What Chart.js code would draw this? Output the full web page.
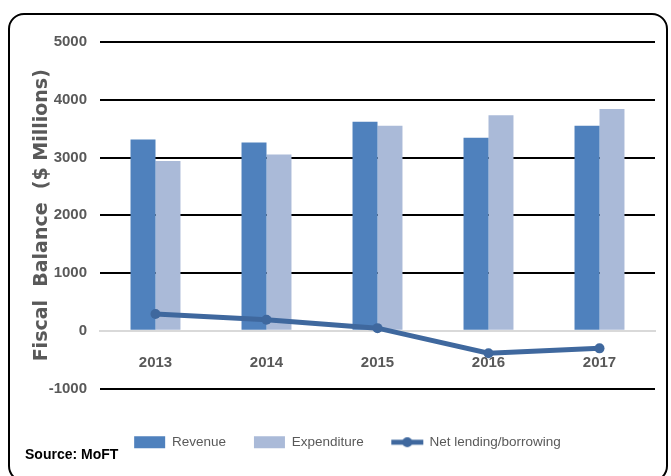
<!DOCTYPE html>
<html>
<head>
<meta charset="utf-8">
<script src="https://cdn.jsdelivr.net/npm/chart.js@4.4.1/dist/chart.umd.min.js"></script>
<style>
  html, body { margin: 0; padding: 0; background: #fff; overflow: hidden; }
  #frame {
    position: absolute; left: 8px; top: 13px;
    width: 656px; height: 465px;
    border: 2px solid #000; border-radius: 16px;
  }
  #chart { position: absolute; left: 0; top: 0; }
  #source {
    position: absolute; left: 15px; top: 431px;
    font: bold 14px 'Liberation Sans Narrow', 'Liberation Sans', sans-serif;
    color: #000;
  }
</style>
</head>
<body>
<div id="frame">
  <canvas id="chart" width="656" height="465"></canvas>
  <div id="source">Source: MoFT</div>
</div>
<script>
// data
const years = ['2013', '2014', '2015', '2016', '2017'];
const revenue = [3310, 3260, 3620, 3340, 3550];
const expenditure = [2940, 3050, 3550, 3730, 3840];
const netLending = [290, 190, 45, -390, -305];
const yTicks = { min: -1000, max: 5000, step: 1000 };

const revColor = '#4F81BD';
const expColor = '#AABAD8';
const lineColor = '#3F689E';
const narrow = "'Liberation Sans Narrow', 'Liberation Sans', sans-serif";
const grey = '#595959';

// little picture for the line's legend entry
function lineIcon() {
    const c = document.createElement('canvas');
    c.width = 36; c.height = 12;
    const g = c.getContext('2d');
    g.strokeStyle = lineColor;
    g.fillStyle = lineColor;
    g.lineWidth = 5;
    g.beginPath(); g.moveTo(2, 6); g.lineTo(34, 6); g.stroke();
    g.beginPath(); g.arc(18, 6, 5, 0, Math.PI * 2); g.fill();
    return c;
}
const legendIcons = ['rect', 'rect', lineIcon()];

new Chart(document.getElementById('chart'), {
    data: {
        labels: years,
        datasets: [
            { type: 'bar', label: 'Revenue', data: revenue, backgroundColor: revColor, order: 1 },
            { type: 'bar', label: 'Expenditure', data: expenditure, backgroundColor: expColor, order: 2 },
            {
                type: 'line', label: 'Net lending/borrowing', data: netLending,
                borderColor: lineColor, backgroundColor: lineColor, borderWidth: 5,
                pointRadius: 5, pointBackgroundColor: lineColor, pointBorderWidth: 0,
                order: 0
            }
        ]
    },
    options: {
        responsive: false,
        animation: false,
        categoryPercentage: 0.45,
        barPercentage: 1,
        layout: { padding: { left: 30, right: 11, top: 27, bottom: 21 } },
        plugins: {
            tooltip: { enabled: false },
            // empty spacer between the plot and the legend
            subtitle: {
                display: true,
                text: ' ',
                position: 'bottom',
                weight: 500,
                font: { size: 10, lineHeight: 1 },
                padding: { top: 9, bottom: 0 }
            },
            legend: {
                position: 'bottom',
                labels: {
                    usePointStyle: true,
                    pointStyleWidth: 31,
                    boxHeight: 12,
                    padding: 28,
                    color: grey,
                    font: { family: narrow, size: 13.5 },
                    generateLabels(chart) {
                        const items = Chart.defaults.plugins.legend.labels.generateLabels(chart);
                        items.sort((a, b) => a.datasetIndex - b.datasetIndex);
                        items.forEach(it => {
                            it.pointStyle = legendIcons[it.datasetIndex];
                            it.lineWidth = 0;
                        });
                        return items;
                    }
                }
            }
        },
        scales: {
            x: {
                position: { y: 0 },
                grid: { display: false },
                border: { display: true, color: '#d9d9d9', width: 2 },
                ticks: { color: grey, padding: 15, font: { family: narrow, size: 15, weight: 'bold' } }
            },
            y: {
                min: yTicks.min,
                max: yTicks.max,
                z: 1,
                ticks: {
                    stepSize: yTicks.step,
                    color: grey,
                    padding: 13,
                    font: { family: narrow, size: 15, weight: 'bold' },
                    callback: v => String(v)
                },
                grid: {
                    drawTicks: false,
                    lineWidth: 2,
                    color: ctx => ctx.tick && ctx.tick.value === 0 ? 'rgba(0,0,0,0)' : '#000'
                },
                border: { display: false },
                title: {
                    display: true,
                    text: 'Fiscal  Balance  ($ Millions)',
                    color: grey,
                    padding: { top: -9, bottom: 0 },
                    font: { family: "'DejaVu Sans', sans-serif", size: 19, weight: 'bold' }
                },
                afterFit(s) { s.width = 60; }
            }
        }
    }
});
</script>
</body>
</html>
